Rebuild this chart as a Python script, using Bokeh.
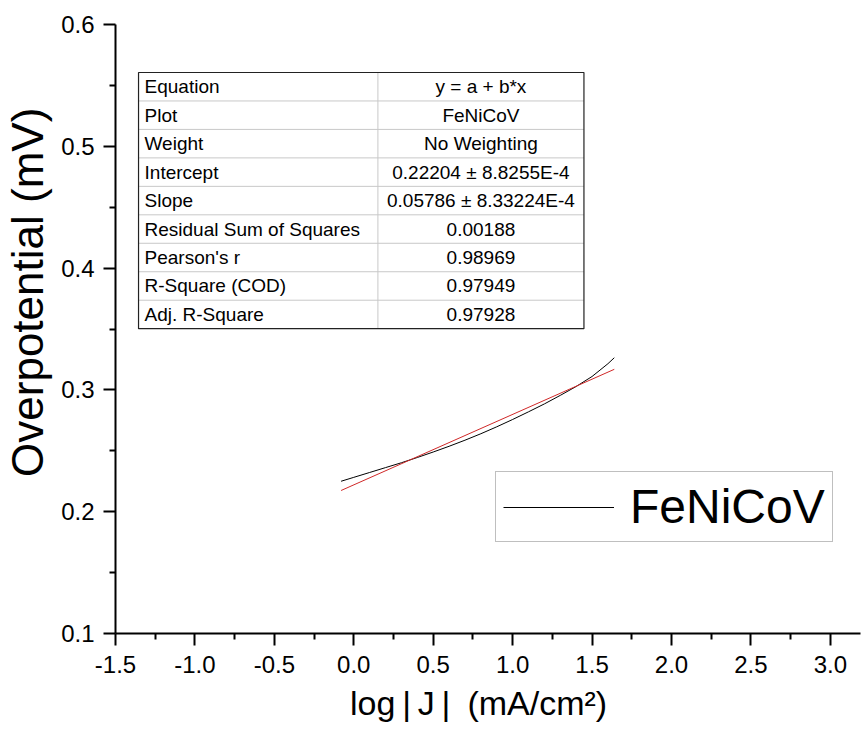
from bokeh.plotting import figure
from bokeh.models import Range1d, FixedTicker, Legend, LegendItem
from bokeh.embed import file_html
from bokeh.resources import INLINE
from bokeh.core.properties import value

# ---- data ----
log_j = [-0.08, 0.0, 0.1, 0.2, 0.3, 0.4, 0.5, 0.6, 0.7, 0.8, 0.9, 1.0, 1.1, 1.2, 1.3, 1.4, 1.5, 1.6, 1.64]
overpotential = [0.2250, 0.2282, 0.2322, 0.2362, 0.2402, 0.2445, 0.2490, 0.2537, 0.2587, 0.2640,
                 0.2697, 0.2757, 0.2820, 0.2885, 0.2955, 0.3028, 0.3110, 0.3215, 0.3264]
fit_x = [-0.08, 1.64]
fit_y = [0.2174, 0.3169]

x_ticks = [-1.5, -1.0, -0.5, 0.0, 0.5, 1.0, 1.5, 2.0, 2.5, 3.0]
x_minor = [-1.25, -0.75, -0.25, 0.25, 0.75, 1.25, 1.75, 2.25, 2.75]
y_ticks = [0.1, 0.2, 0.3, 0.4, 0.5, 0.6]
y_minor = [0.15, 0.25, 0.35, 0.45, 0.55]

x_title = "log\u2009|\u2009J\u2009|\u2002(mA/cm\u00b2)"
y_title = "Overpotential (mV)"

table_keys = ["Equation", "Plot", "Weight", "Intercept", "Slope",
              "Residual Sum of Squares", "Pearson's r", "R-Square (COD)", "Adj. R-Square"]
table_vals = ["y = a + b*x", "FeNiCoV", "No Weighting", "0.22204 \u00b1 8.8255E-4",
              "0.05786 \u00b1 8.33224E-4", "0.00188", "0.98969", "0.97949", "0.97928"]

# ---- table placement (data coordinates) ----
tbl_left, tbl_mid, tbl_right = -1.355, 0.152, 1.449
tbl_top, row_h = 0.5606, 0.02337
n_rows = len(table_keys)
tbl_bottom = tbl_top - n_rows * row_h

FONT = "Liberation Sans"
NBSP = "\u00a0"

p = figure(width=861, height=742, output_backend="svg", toolbar_location=None,
           x_range=Range1d(-1.5, 3.19), y_range=Range1d(0.1, 0.6),
           min_border_left=114, min_border_right=1, min_border_top=24, min_border_bottom=109)
p.outline_line_color = None
p.xgrid.visible = False
p.ygrid.visible = False
p.background_fill_color = "white"

# table
p.quad(left=[tbl_left], right=[tbl_right], top=[tbl_top], bottom=[tbl_bottom],
       fill_color="white", line_color=None)
row_lines = [tbl_top - i * row_h for i in range(1, n_rows)]
p.segment(x0=[tbl_left] * len(row_lines), x1=[tbl_right] * len(row_lines),
          y0=row_lines, y1=row_lines, line_color="#c8c8c8", line_width=1)
p.segment(x0=[tbl_mid], x1=[tbl_mid], y0=[tbl_bottom], y1=[tbl_top],
          line_color="#c8c8c8", line_width=1)
p.quad(left=[tbl_left], right=[tbl_right], top=[tbl_top], bottom=[tbl_bottom],
       fill_color=None, line_color="#222222", line_width=1.2)
row_centers = [tbl_top - (i + 0.5) * row_h for i in range(n_rows)]
p.text(x=[tbl_left] * n_rows, y=row_centers, text=table_keys, x_offset=6,
       text_baseline="middle", text_align="left", text_font=value(FONT),
       text_font_size=value("19px"), text_color="black")
p.text(x=[(tbl_mid + tbl_right) / 2] * n_rows, y=row_centers, text=table_vals,
       text_baseline="middle", text_align="center", text_font=value(FONT),
       text_font_size=value("19px"), text_color="black")

# curves
r_data = p.line(log_j, overpotential, line_color="black", line_width=1)
p.line(fit_x, fit_y, line_color="#d02828", line_width=1)

# axes
for ax in (p.xaxis[0], p.yaxis[0]):
    ax.axis_line_width = 2
    ax.axis_line_color = "black"
    ax.major_tick_line_width = 2
    ax.minor_tick_line_width = 2
    ax.major_tick_out = 12
    ax.major_tick_in = 0
    ax.minor_tick_out = 6
    ax.minor_tick_in = 0
    ax.major_label_text_font = FONT
    ax.major_label_text_font_size = "24px"
    ax.major_label_text_color = "black"
    ax.axis_label_text_font = FONT
    ax.axis_label_text_font_style = "normal"
    ax.axis_label_text_color = "black"

p.xaxis.ticker = FixedTicker(ticks=x_ticks, minor_ticks=x_minor)
p.yaxis.ticker = FixedTicker(ticks=y_ticks, minor_ticks=y_minor)
p.xaxis.major_label_overrides = {t: f"{t:.1f}" for t in x_ticks}
p.yaxis.major_label_overrides = {t: f"{t:.1f}" for t in y_ticks}
p.xaxis.major_label_standoff = 10
p.yaxis.major_label_standoff = 9
# padding spaces shift the titles off-centre, as in the original
p.xaxis.axis_label = x_title + NBSP * 2
p.yaxis.axis_label = NBSP * 6 + y_title
p.xaxis.axis_label_text_font_size = "34px"
p.yaxis.axis_label_text_font_size = "44px"
p.xaxis.axis_label_standoff = 8
p.yaxis.axis_label_standoff = 6

legend = Legend(items=[LegendItem(label="FeNiCoV", renderers=[r_data])],
                location=(380, 91), label_text_font=FONT, label_text_font_size="48px",
                label_text_color="black",
                glyph_width=111, label_standoff=16, padding=7, margin=0,
                border_line_color="#808080", border_line_width=1,
                background_fill_color="white", background_fill_alpha=1.0)
p.add_layout(legend)

open("out.html", "w").write(file_html(p, INLINE))
